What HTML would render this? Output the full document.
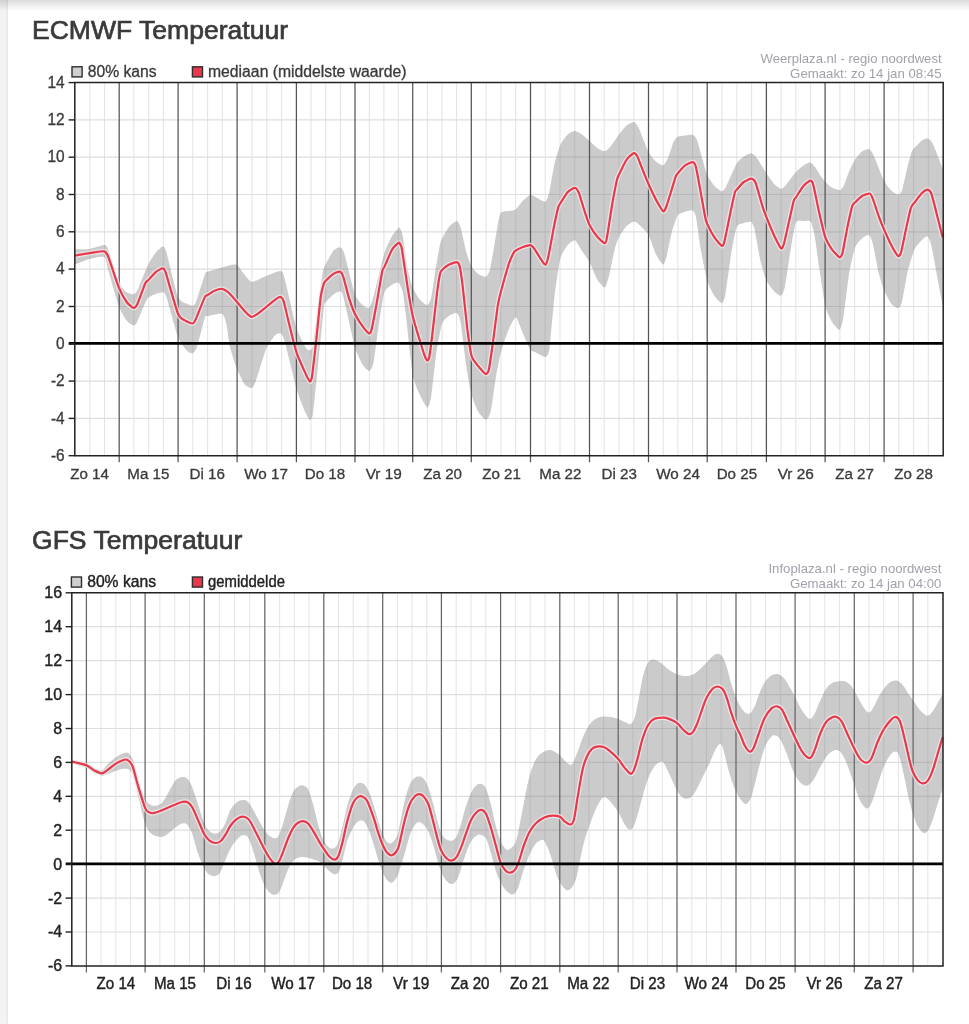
<!DOCTYPE html>
<html lang="nl"><head><meta charset="utf-8"><title>Temperatuur pluim</title>
<style>
html,body{margin:0;padding:0}
body{width:969px;height:1024px;overflow:hidden;background:#f3f3f3;position:relative;font-family:"Liberation Sans",Arial,sans-serif}
.card{position:absolute;left:8px;top:0;width:961px;height:1024px;background:#fff;box-shadow:0 0 3px rgba(0,0,0,.12)}
.shade{position:absolute;left:0;top:0;width:969px;height:11px;background:linear-gradient(rgba(0,0,0,.14),rgba(0,0,0,0))}
h2{position:absolute;margin:0;left:32px;font-size:26.2px;line-height:30px;font-weight:normal;color:#3a3a3a;white-space:nowrap;transform-origin:0 50%;-webkit-text-stroke:.7px #3a3a3a}
#t1{top:15.1px;transform:scaleX(1.013)}
#t2{top:524.6px;transform:scaleX(1.013)}
svg{position:absolute;left:0;top:0;filter:blur(.45px)}
</style></head><body>
<div class="card"></div>
<h2 id="t1">ECMWF Temperatuur</h2>
<h2 id="t2">GFS Temperatuur</h2>
<svg width="969" height="1024" viewBox="0 0 969 1024">
<g stroke="#e4e4e4" stroke-width="1.1">
<line x1="89.8" y1="82.6" x2="89.8" y2="455.7"/>
<line x1="104.5" y1="82.6" x2="104.5" y2="455.7"/>
<line x1="133.9" y1="82.6" x2="133.9" y2="455.7"/>
<line x1="148.7" y1="82.6" x2="148.7" y2="455.7"/>
<line x1="163.4" y1="82.6" x2="163.4" y2="455.7"/>
<line x1="192.8" y1="82.6" x2="192.8" y2="455.7"/>
<line x1="207.6" y1="82.6" x2="207.6" y2="455.7"/>
<line x1="222.3" y1="82.6" x2="222.3" y2="455.7"/>
<line x1="251.9" y1="82.6" x2="251.9" y2="455.7"/>
<line x1="266.8" y1="82.6" x2="266.8" y2="455.7"/>
<line x1="281.6" y1="82.6" x2="281.6" y2="455.7"/>
<line x1="311.0" y1="82.6" x2="311.0" y2="455.7"/>
<line x1="325.7" y1="82.6" x2="325.7" y2="455.7"/>
<line x1="340.4" y1="82.6" x2="340.4" y2="455.7"/>
<line x1="369.4" y1="82.6" x2="369.4" y2="455.7"/>
<line x1="383.9" y1="82.6" x2="383.9" y2="455.7"/>
<line x1="398.3" y1="82.6" x2="398.3" y2="455.7"/>
<line x1="427.4" y1="82.6" x2="427.4" y2="455.7"/>
<line x1="442.0" y1="82.6" x2="442.0" y2="455.7"/>
<line x1="456.6" y1="82.6" x2="456.6" y2="455.7"/>
<line x1="486.1" y1="82.6" x2="486.1" y2="455.7"/>
<line x1="500.9" y1="82.6" x2="500.9" y2="455.7"/>
<line x1="515.7" y1="82.6" x2="515.7" y2="455.7"/>
<line x1="545.2" y1="82.6" x2="545.2" y2="455.7"/>
<line x1="560.0" y1="82.6" x2="560.0" y2="455.7"/>
<line x1="574.8" y1="82.6" x2="574.8" y2="455.7"/>
<line x1="604.2" y1="82.6" x2="604.2" y2="455.7"/>
<line x1="619.0" y1="82.6" x2="619.0" y2="455.7"/>
<line x1="633.8" y1="82.6" x2="633.8" y2="455.7"/>
<line x1="663.2" y1="82.6" x2="663.2" y2="455.7"/>
<line x1="677.9" y1="82.6" x2="677.9" y2="455.7"/>
<line x1="692.6" y1="82.6" x2="692.6" y2="455.7"/>
<line x1="722.0" y1="82.6" x2="722.0" y2="455.7"/>
<line x1="736.8" y1="82.6" x2="736.8" y2="455.7"/>
<line x1="751.6" y1="82.6" x2="751.6" y2="455.7"/>
<line x1="781.1" y1="82.6" x2="781.1" y2="455.7"/>
<line x1="795.8" y1="82.6" x2="795.8" y2="455.7"/>
<line x1="810.5" y1="82.6" x2="810.5" y2="455.7"/>
<line x1="839.9" y1="82.6" x2="839.9" y2="455.7"/>
<line x1="854.6" y1="82.6" x2="854.6" y2="455.7"/>
<line x1="869.4" y1="82.6" x2="869.4" y2="455.7"/>
<line x1="898.8" y1="82.6" x2="898.8" y2="455.7"/>
<line x1="913.6" y1="82.6" x2="913.6" y2="455.7"/>
<line x1="928.3" y1="82.6" x2="928.3" y2="455.7"/>
</g>
<g stroke="#dedede" stroke-width="1.2">
<line x1="74.8" y1="119.9" x2="943.2" y2="119.9"/>
<line x1="74.8" y1="157.2" x2="943.2" y2="157.2"/>
<line x1="74.8" y1="194.5" x2="943.2" y2="194.5"/>
<line x1="74.8" y1="231.8" x2="943.2" y2="231.8"/>
<line x1="74.8" y1="269.1" x2="943.2" y2="269.1"/>
<line x1="74.8" y1="306.5" x2="943.2" y2="306.5"/>
<line x1="74.8" y1="381.1" x2="943.2" y2="381.1"/>
<line x1="74.8" y1="418.4" x2="943.2" y2="418.4"/>
</g>
<path d="M74.9,249.3C76.4,249.3 86.6,249.3 89.5,248.9C92.4,248.5 102.4,245.0 104.2,245.0C106.0,245.0 106.5,245.6 108.0,249.3C109.5,253.1 116.9,278.2 118.8,282.5C120.7,286.8 125.1,291.1 126.6,292.3C128.1,293.5 132.4,294.4 133.5,294.2C134.6,294.0 136.0,293.2 137.4,290.3C138.8,287.4 146.1,268.7 148.0,264.9C149.9,261.1 154.5,254.0 156.0,252.2C157.5,250.3 161.7,246.3 162.8,246.4C163.9,246.5 165.2,248.1 166.7,253.2C168.2,258.3 175.9,292.0 178.0,297.1C180.1,302.2 185.7,303.2 187.2,304.0C188.7,304.8 191.8,305.7 192.7,305.5C193.6,305.3 194.8,305.1 196.0,302.0C197.2,298.9 203.7,277.7 204.8,274.7C205.9,271.7 205.6,272.5 207.3,271.8C209.0,271.1 219.7,268.2 222.0,267.5C224.3,266.8 228.5,265.5 230.0,265.2C231.5,264.9 236.0,264.2 237.2,264.8C238.4,265.4 240.3,269.3 241.7,271.0C243.1,272.7 249.1,281.3 251.5,281.8C253.9,282.3 263.2,277.0 266.1,275.9C269.0,274.8 278.9,270.7 280.8,271.0C282.7,271.3 283.1,273.1 284.7,278.8C286.3,284.5 294.2,320.8 296.4,327.7C298.5,334.6 304.8,346.0 306.2,348.2C307.6,350.4 309.4,350.4 310.1,350.1C310.8,349.8 312.2,349.4 313.0,345.2C313.8,341.0 316.9,315.4 317.9,308.1C318.9,300.8 322.0,276.4 322.8,272.0C323.6,267.6 324.6,266.3 325.7,264.2C326.8,262.1 332.1,252.2 333.5,250.5C334.9,248.8 338.9,246.9 340.0,247.2C341.1,247.5 342.8,248.7 344.3,253.4C345.8,258.1 353.1,289.3 355.0,294.5C356.9,299.7 361.4,303.9 362.8,305.2C364.2,306.5 368.0,308.6 369.1,307.7C370.2,306.8 372.1,301.8 373.6,296.4C375.1,291.0 382.4,259.4 384.3,253.4C386.2,247.4 390.7,238.4 392.1,235.9C393.5,233.4 397.8,228.8 398.6,228.0C399.4,227.2 399.6,227.0 400.0,227.9C400.4,228.8 402.1,232.5 402.9,236.7C403.7,240.9 406.8,264.8 407.8,269.9C408.8,275.0 411.5,284.6 412.7,287.5C413.9,290.4 418.0,297.4 419.5,299.2C421.0,300.9 426.1,305.2 427.3,305.0C428.5,304.8 430.4,301.2 431.3,297.3C432.2,293.4 435.2,271.3 436.1,266.0C437.0,260.7 439.4,247.2 440.0,244.5C440.6,241.8 441.1,240.4 442.0,238.7C442.9,236.9 447.3,228.8 448.8,227.0C450.3,225.2 455.4,221.1 456.6,221.1C457.8,221.1 459.5,223.9 460.5,227.0C461.5,230.1 465.3,248.4 466.4,252.3C467.5,256.2 470.1,263.9 471.3,266.0C472.5,268.1 476.6,272.7 478.1,273.8C479.6,274.9 484.7,277.2 485.9,276.8C487.1,276.4 489.0,272.7 489.8,269.9C490.6,267.1 493.0,252.9 493.8,248.4C494.6,243.9 497.0,228.6 497.7,225.0C498.4,221.4 500.0,213.7 501.2,212.3C502.4,210.9 507.9,211.2 509.4,210.9C510.9,210.6 514.4,210.4 515.8,209.4C517.2,208.4 521.5,202.1 523.0,200.6C524.5,199.1 529.1,195.0 530.5,194.7C531.9,194.4 535.2,197.0 536.7,197.7C538.2,198.4 544.2,202.2 545.5,201.6C546.8,201.0 548.5,195.5 549.4,191.8C550.3,188.1 553.2,169.2 554.3,164.5C555.4,159.8 558.8,147.9 560.2,144.9C561.6,141.9 566.5,135.6 568.0,134.2C569.5,132.8 573.5,130.9 574.9,130.9C576.3,130.9 580.2,133.2 581.7,134.2C583.2,135.2 587.9,139.6 589.5,141.0C591.1,142.4 595.8,146.9 597.3,147.9C598.8,148.9 603.4,151.4 604.8,151.2C606.2,151.0 609.6,147.6 611.0,145.9C612.4,144.2 617.6,136.2 619.2,134.2C620.8,132.1 625.1,126.6 626.6,125.4C628.1,124.2 632.7,121.7 633.9,121.9C635.1,122.1 636.9,124.3 638.4,127.3C639.9,130.3 646.8,148.4 648.5,151.8C650.2,155.2 654.4,160.1 655.9,161.5C657.4,162.9 662.0,165.7 663.2,165.4C664.4,165.1 666.7,160.9 667.7,158.6C668.7,156.3 672.5,144.2 673.5,142.0C674.5,139.8 676.6,137.3 677.8,136.7C679.0,136.0 683.7,135.7 685.2,135.5C686.7,135.3 691.5,134.4 692.7,134.8C693.9,135.2 696.0,137.4 697.0,140.0C698.0,142.6 701.8,157.0 702.8,160.5C703.8,164.0 706.0,172.7 707.2,175.2C708.4,177.7 713.1,184.3 714.6,185.9C716.1,187.5 720.7,191.2 721.9,191.2C723.1,191.2 724.9,188.7 726.4,185.9C727.9,183.1 735.0,166.3 736.7,163.4C738.5,160.5 742.4,157.6 743.9,156.6C745.4,155.6 749.9,153.2 751.2,153.3C752.5,153.4 755.1,155.6 756.6,157.6C758.1,159.6 764.6,170.6 766.4,173.2C768.2,175.8 772.7,182.3 774.2,183.9C775.7,185.5 779.9,188.7 781.1,188.8C782.3,188.9 784.4,186.6 785.9,184.9C787.4,183.2 793.9,174.1 795.7,172.2C797.5,170.2 802.0,166.4 803.5,165.4C805.0,164.4 809.2,162.3 810.4,162.5C811.6,162.7 814.2,166.1 815.2,167.3C816.2,168.5 819.0,173.5 820.0,174.9C821.0,176.3 824.1,180.5 825.3,181.8C826.5,183.1 830.3,186.8 831.7,187.6C833.1,188.4 838.3,190.3 839.5,190.2C840.7,190.1 842.4,188.5 843.4,186.6C844.4,184.7 848.1,173.7 849.3,171.0C850.5,168.3 853.9,161.2 855.2,159.3C856.5,157.4 860.6,152.5 862.0,151.5C863.4,150.5 867.6,148.7 868.8,149.1C870.0,149.5 872.2,152.2 873.7,155.4C875.2,158.6 882.3,177.3 884.1,180.8C885.9,184.3 889.9,189.1 891.3,190.5C892.7,191.9 897.0,194.5 898.1,194.5C899.2,194.5 901.0,193.4 902.0,190.5C903.0,187.6 906.9,169.1 907.9,165.2C908.9,161.3 911.1,153.3 911.8,151.5C912.5,149.7 913.7,148.7 914.7,147.6C915.7,146.5 920.3,141.6 921.6,140.7C922.9,139.8 926.3,138.0 927.4,138.2C928.5,138.4 931.1,140.6 932.3,142.7C933.5,144.8 938.1,156.7 939.1,159.3C940.1,161.9 942.3,168.0 942.7,169.0L942.7,305.8C942.2,302.9 938.3,282.6 937.2,276.5C936.1,270.4 932.3,249.2 931.3,245.2C930.3,241.2 928.4,236.9 927.4,236.4C926.4,235.9 922.9,239.1 921.6,240.4C920.3,241.7 916.1,246.1 914.7,249.1C913.3,252.1 909.2,265.3 907.9,270.6C906.6,275.9 903.0,298.1 902.0,301.9C901.0,305.6 899.2,307.9 898.1,308.1C897.0,308.3 892.7,305.6 891.3,303.8C889.9,302.0 885.4,293.3 884.1,290.2C882.8,287.1 879.7,277.3 878.6,272.6C877.5,267.9 873.7,247.1 872.7,243.3C871.7,239.6 869.9,235.6 868.8,235.1C867.7,234.6 863.4,237.2 862.0,238.4C860.6,239.6 856.5,243.8 855.2,247.2C853.9,250.6 850.5,265.6 849.3,272.6C848.1,279.6 844.4,311.8 843.4,317.5C842.4,323.2 840.7,329.4 839.5,329.8C838.3,330.2 833.1,323.8 831.7,321.4C830.3,319.0 826.6,311.2 825.3,305.8C824.0,300.4 820.2,274.2 819.1,267.0C818.0,259.8 815.2,238.3 814.3,233.8C813.4,229.3 811.5,222.9 810.4,221.6C809.3,220.3 805.0,221.0 803.5,221.1C802.0,221.2 797.1,219.6 795.7,223.0C794.3,226.4 790.9,248.8 789.8,255.2C788.7,261.6 785.9,282.4 785.0,286.5C784.1,290.6 782.2,295.2 781.1,295.7C780.0,296.2 775.7,292.9 774.2,291.4C772.7,289.9 767.8,283.6 766.4,280.6C765.0,277.6 761.7,266.2 760.5,261.1C759.3,256.0 755.6,233.7 754.7,229.8C753.8,225.9 752.3,222.7 751.2,222.0C750.1,221.3 745.4,222.5 743.9,223.0C742.4,223.5 738.0,223.9 736.7,226.9C735.4,229.9 732.4,246.6 731.3,253.3C730.2,260.0 726.3,289.3 725.4,294.3C724.5,299.3 723.0,302.9 721.9,303.1C720.8,303.3 716.1,298.6 714.6,296.3C713.1,294.1 708.6,285.2 707.2,280.6C705.8,276.0 702.0,256.3 700.9,250.0C699.8,243.7 696.8,221.2 696.0,217.2C695.2,213.2 693.8,211.0 692.7,210.4C691.6,209.8 686.7,211.2 685.2,211.7C683.7,212.2 679.2,213.1 677.8,215.2C676.4,217.3 672.7,228.7 671.6,232.8C670.5,236.9 667.5,253.1 666.7,256.3C665.9,259.5 664.3,264.7 663.2,264.5C662.1,264.3 657.4,257.3 655.9,254.3C654.4,251.3 650.2,237.8 648.5,234.8C646.8,231.8 639.9,225.3 638.4,224.0C636.9,222.7 635.1,221.3 633.9,221.5C632.7,221.7 628.1,224.5 626.6,226.0C625.1,227.5 620.4,234.5 619.2,236.7C618.0,238.9 615.9,244.5 614.9,248.4C613.9,252.3 610.1,271.9 609.1,275.8C608.1,279.7 606.0,287.1 604.8,287.5C603.6,287.9 598.8,282.2 597.3,279.7C595.8,277.2 591.1,265.0 589.5,262.1C587.9,259.2 583.2,252.6 581.7,250.4C580.2,248.2 576.3,240.8 574.9,240.2C573.5,239.6 569.5,242.9 568.0,244.8C566.5,246.7 561.6,253.6 560.2,259.0C558.8,264.4 555.4,289.4 554.3,298.4C553.2,307.4 550.3,343.2 549.4,349.1C548.5,355.0 546.8,356.6 545.5,357.0C544.2,357.4 538.2,353.7 536.7,353.0C535.2,352.3 531.5,351.1 530.5,350.1C529.5,349.1 528.1,345.9 527.0,343.3C525.9,340.7 520.2,326.4 519.1,323.8C518.0,321.2 516.8,316.5 515.8,316.9C514.8,317.3 510.9,324.3 509.4,327.7C507.9,331.1 502.6,346.0 501.2,351.1C499.8,356.2 496.7,372.3 495.7,378.4C494.7,384.4 491.8,407.5 490.8,411.6C489.8,415.7 487.2,419.8 485.9,419.8C484.6,419.8 479.6,414.2 478.1,411.6C476.6,409.0 472.5,398.6 471.3,394.1C470.1,389.6 467.5,373.9 466.4,366.7C465.3,359.5 461.5,327.2 460.5,321.8C459.5,316.4 457.8,313.6 456.6,313.0C455.4,312.4 450.3,314.8 448.8,315.9C447.3,317.0 443.3,319.9 442.0,323.8C440.7,327.7 437.2,347.8 436.1,355.0C435.0,362.2 432.2,390.7 431.3,396.0C430.4,401.3 428.5,407.9 427.3,407.7C426.1,407.5 421.0,397.4 419.5,394.1C418.0,390.8 414.1,382.3 412.7,374.5C411.3,366.7 407.0,324.2 406.0,316.0C405.0,307.8 403.6,295.8 402.9,292.5C402.2,289.2 399.7,283.5 398.6,282.7C397.5,281.9 393.5,283.7 392.1,284.7C390.7,285.7 385.7,288.2 384.3,292.5C382.9,296.8 379.5,320.7 378.4,327.7C377.3,334.7 374.5,358.5 373.6,362.8C372.7,367.1 370.2,370.8 369.1,371.0C368.0,371.2 364.2,367.2 362.8,364.8C361.4,362.4 356.9,354.0 355.0,347.2C353.1,340.4 344.8,302.0 343.3,296.4C341.8,290.8 341.0,291.7 340.0,291.5C339.0,291.3 334.9,293.4 333.5,294.5C332.1,295.6 326.7,300.9 325.7,302.3C324.7,303.7 324.6,301.7 323.8,308.1C323.0,314.5 319.0,356.1 317.9,366.7C316.8,377.2 313.8,408.3 313.0,413.6C312.2,418.9 310.6,420.2 309.7,419.8C308.8,419.4 305.5,412.9 304.2,409.7C302.9,406.5 298.3,395.0 296.4,388.2C294.4,381.4 286.3,346.8 284.7,341.3C283.1,335.8 281.8,334.1 280.8,333.5C279.8,332.9 276.4,333.9 274.9,335.5C273.4,337.1 268.1,344.4 266.1,349.1C264.2,353.8 256.9,378.4 255.4,382.3C253.9,386.2 252.6,388.0 251.5,388.2C250.4,388.4 246.0,386.2 244.6,384.3C243.2,382.4 238.7,373.3 237.2,369.6C235.7,365.9 231.1,351.8 230.0,347.2C228.9,342.6 227.1,326.8 226.3,323.5C225.5,320.2 223.9,314.5 222.0,313.8C220.1,313.1 209.0,315.7 207.3,316.1C205.6,316.5 205.8,314.6 204.8,317.7C203.8,320.8 198.2,343.4 197.0,347.0C195.8,350.6 193.7,352.8 192.7,353.2C191.7,353.6 188.7,352.5 187.2,350.9C185.7,349.3 180.1,342.5 178.0,337.2C175.9,331.9 168.2,302.6 166.7,298.1C165.2,293.6 164.7,292.3 162.8,292.3C160.9,292.3 150.5,295.2 148.0,298.1C145.5,301.0 138.8,318.9 137.4,321.6C136.0,324.3 134.6,325.6 133.5,325.5C132.4,325.4 128.1,322.6 126.6,320.6C125.1,318.6 120.6,310.7 118.8,305.9C117.0,301.1 110.5,277.6 109.0,272.7C107.5,267.8 106.2,258.5 104.2,257.1C102.2,255.7 92.4,258.3 89.5,259.0C86.6,259.7 76.4,263.9 74.9,264.5Z" fill="rgba(120,120,120,0.385)"/>
<g stroke="#555" stroke-width="1.25">
<line x1="119.2" y1="82.6" x2="119.2" y2="462.3"/>
<line x1="178.1" y1="82.6" x2="178.1" y2="462.3"/>
<line x1="237.1" y1="82.6" x2="237.1" y2="462.3"/>
<line x1="296.4" y1="82.6" x2="296.4" y2="462.3"/>
<line x1="355.0" y1="82.6" x2="355.0" y2="462.3"/>
<line x1="412.7" y1="82.6" x2="412.7" y2="462.3"/>
<line x1="471.3" y1="82.6" x2="471.3" y2="462.3"/>
<line x1="530.5" y1="82.6" x2="530.5" y2="462.3"/>
<line x1="589.5" y1="82.6" x2="589.5" y2="462.3"/>
<line x1="648.5" y1="82.6" x2="648.5" y2="462.3"/>
<line x1="707.2" y1="82.6" x2="707.2" y2="462.3"/>
<line x1="766.4" y1="82.6" x2="766.4" y2="462.3"/>
<line x1="825.1" y1="82.6" x2="825.1" y2="462.3"/>
<line x1="884.1" y1="82.6" x2="884.1" y2="462.3"/>
</g>
<path d="M74.9,255.5C76.4,255.3 86.6,253.6 89.5,253.2C92.4,252.8 102.4,251.0 104.2,251.3C106.0,251.6 106.5,252.4 108.0,256.0C109.5,259.6 116.9,282.8 118.8,287.4C120.7,292.0 125.1,299.9 126.6,302.0C128.1,304.1 132.4,307.7 133.5,307.9C134.6,308.1 136.2,306.4 137.4,304.0C138.6,301.6 144.1,285.9 145.2,283.5C146.3,281.1 146.9,281.7 148.0,280.5C149.1,279.3 154.5,273.0 156.0,271.8C157.5,270.6 161.8,268.3 162.8,268.4C163.8,268.5 164.2,268.2 165.7,272.7C167.2,277.2 176.1,309.0 178.0,313.8C179.9,318.6 183.7,319.6 185.2,320.6C186.7,321.6 191.6,323.7 192.7,323.5C193.8,323.3 194.8,321.2 196.0,318.6C197.2,316.0 203.7,299.4 204.8,297.1C205.9,294.8 206.3,295.8 207.3,295.2C208.3,294.6 213.0,291.3 214.5,290.7C216.0,290.1 220.6,288.6 222.0,288.8C223.4,289.0 226.7,290.9 228.2,292.3C229.7,293.7 235.6,300.4 237.2,302.3C238.8,304.2 243.2,309.5 244.6,311.0C246.0,312.5 250.2,316.6 251.5,316.9C252.8,317.2 255.8,315.0 257.3,314.0C258.8,313.0 264.1,308.7 266.1,307.1C268.1,305.5 275.4,299.4 276.9,298.4C278.4,297.4 280.1,296.7 280.8,297.0C281.5,297.3 282.9,298.8 283.7,301.3C284.5,303.8 287.3,316.7 288.6,321.8C289.9,326.9 294.8,347.2 296.4,352.1C298.0,357.0 302.9,367.7 304.2,370.6C305.5,373.5 308.9,380.8 309.7,381.4C310.5,382.0 311.4,380.3 312.0,376.5C312.6,372.7 315.0,351.3 315.9,343.3C316.8,335.3 320.0,302.4 320.8,296.4C321.6,290.4 323.3,285.3 323.8,283.7C324.3,282.1 324.7,281.8 325.7,280.8C326.7,279.8 332.1,274.8 333.5,273.9C334.9,273.0 339.0,271.3 340.0,271.6C341.0,271.9 342.4,274.2 343.3,276.9C344.2,279.6 347.9,294.7 349.1,298.4C350.3,302.1 353.6,311.2 355.0,314.0C356.4,316.8 361.4,324.8 362.8,326.7C364.2,328.6 368.2,333.2 369.1,333.5C370.0,333.8 370.9,332.5 371.6,329.6C372.3,326.7 375.4,310.1 376.5,304.2C377.6,298.3 381.5,274.7 382.3,271.0C383.1,267.3 383.3,269.2 384.3,267.1C385.3,265.0 390.7,251.9 392.1,249.5C393.5,247.1 397.8,243.1 398.6,242.7C399.5,242.2 400.3,244.3 400.6,245.0C400.9,245.7 401.3,245.1 402.0,249.5C402.7,253.9 406.7,282.0 407.8,288.6C408.9,295.2 411.5,310.8 412.7,315.9C413.9,321.0 418.3,335.5 419.5,339.4C420.7,343.3 423.6,352.9 424.4,355.0C425.2,357.1 426.8,360.3 427.3,360.5C427.8,360.7 428.8,359.5 429.3,357.0C429.8,354.5 431.4,341.9 432.2,335.5C433.0,329.1 436.3,298.7 437.1,292.5C437.9,286.3 439.5,276.1 440.0,273.9C440.5,271.6 441.1,270.9 442.0,270.0C442.9,269.1 447.3,265.6 448.8,264.8C450.3,264.0 455.5,262.1 456.6,262.2C457.7,262.3 459.0,263.9 459.6,266.1C460.2,268.4 461.7,278.3 462.5,284.7C463.3,291.1 466.5,322.6 467.4,329.6C468.3,336.6 470.6,351.9 471.3,355.0C472.0,358.1 473.1,359.3 474.2,360.9C475.3,362.5 480.8,369.3 482.0,370.6C483.2,371.9 485.2,374.2 485.9,374.1C486.6,374.0 488.2,372.7 488.9,369.6C489.6,366.5 491.9,349.6 492.8,343.3C493.7,337.0 496.9,311.5 497.7,306.2C498.5,300.9 500.0,294.9 501.2,290.5C502.4,286.1 508.2,265.9 509.4,262.2C510.6,258.5 512.7,254.6 513.3,253.4C513.9,252.2 514.8,251.1 515.8,250.5C516.8,249.9 521.5,247.5 523.0,247.0C524.5,246.5 529.3,244.9 530.5,245.2C531.7,245.4 533.7,248.0 534.8,249.5C535.9,251.0 540.5,258.8 541.6,260.3C542.7,261.8 544.8,265.2 545.5,264.8C546.2,264.4 547.5,260.3 548.4,256.3C549.3,252.3 553.3,229.9 554.3,225.0C555.3,220.1 557.6,209.6 558.2,207.4C558.8,205.2 559.2,205.1 560.2,203.5C561.2,201.9 566.5,193.4 568.0,191.8C569.5,190.2 573.8,187.8 574.9,187.9C576.0,188.0 577.8,190.5 578.8,192.8C579.8,195.1 583.5,208.1 584.6,211.3C585.7,214.5 588.2,222.5 589.5,225.0C590.8,227.5 595.8,234.9 597.3,236.7C598.8,238.5 603.8,243.2 604.8,243.2C605.8,243.2 606.4,240.5 607.1,236.7C607.8,232.9 611.0,211.2 612.0,205.5C613.0,199.8 616.2,183.2 616.9,180.1C617.6,177.0 618.2,176.2 619.2,174.2C620.2,172.1 625.1,161.7 626.6,159.6C628.1,157.5 632.8,153.4 633.9,153.1C635.0,152.8 636.7,155.3 637.4,156.6C638.1,157.9 640.2,163.7 641.3,166.4C642.4,169.1 647.0,180.7 648.5,184.0C650.0,187.3 654.4,196.9 655.9,199.6C657.4,202.3 662.1,210.7 663.2,211.3C664.3,211.9 665.9,207.7 666.7,205.5C667.5,203.3 670.7,192.6 671.6,189.8C672.5,187.0 674.9,178.8 675.5,177.1C676.1,175.4 676.8,174.4 677.8,173.2C678.8,172.0 683.7,166.5 685.2,165.4C686.7,164.3 691.6,161.9 692.7,162.1C693.8,162.3 695.3,164.8 696.0,167.4C696.7,170.0 699.0,183.1 699.9,187.9C700.8,192.7 704.1,211.6 704.8,215.2C705.5,218.8 706.2,221.8 707.2,224.0C708.2,226.2 713.1,235.5 714.6,237.7C716.1,239.9 720.9,245.5 721.9,245.9C722.9,246.3 723.7,244.4 724.4,241.6C725.1,238.8 728.3,223.0 729.3,218.1C730.3,213.2 734.1,195.5 734.8,192.7C735.5,189.9 735.8,190.9 736.7,189.8C737.6,188.7 742.4,183.1 743.9,182.0C745.4,180.9 750.0,178.6 751.2,178.7C752.4,178.8 754.6,180.2 755.7,183.0C756.8,185.8 761.4,203.0 762.5,206.4C763.6,209.8 765.2,214.2 766.4,217.1C767.6,220.0 772.7,232.6 774.2,235.7C775.7,238.8 780.1,247.6 781.1,248.4C782.1,249.2 783.2,246.1 784.0,243.5C784.8,240.9 787.9,226.3 788.9,222.0C789.9,217.7 793.1,202.9 793.8,200.5C794.5,198.1 794.7,199.1 795.7,197.6C796.7,196.1 802.0,187.6 803.5,185.9C805.0,184.2 809.4,180.7 810.4,180.6C811.4,180.5 812.4,181.7 813.3,184.9C814.2,188.1 817.9,207.1 819.1,212.3C820.3,217.6 824.0,233.7 825.3,237.4C826.6,241.1 830.3,247.1 831.7,249.1C833.1,251.1 838.4,256.9 839.5,257.3C840.6,257.7 841.7,256.0 842.5,253.0C843.3,250.0 846.3,232.4 847.3,227.7C848.3,223.0 851.4,208.7 852.2,206.2C853.0,203.7 854.2,203.3 855.2,202.3C856.2,201.3 860.5,196.9 862.0,196.0C863.5,195.1 868.7,193.3 869.8,193.5C870.9,193.7 871.8,196.2 872.7,198.4C873.6,200.6 877.5,212.8 878.6,215.9C879.7,219.0 882.8,226.7 884.1,229.6C885.4,232.5 889.9,242.6 891.3,245.2C892.7,247.8 897.1,255.3 898.1,256.0C899.1,256.7 900.3,254.7 901.1,252.1C901.9,249.5 904.9,234.0 905.9,229.6C906.9,225.2 909.9,210.8 910.8,208.1C911.7,205.4 913.6,203.8 914.7,202.3C915.8,200.8 920.3,194.8 921.6,193.5C922.9,192.2 926.4,189.6 927.4,189.6C928.4,189.6 930.3,190.9 931.3,193.5C932.3,196.1 936.1,211.5 937.2,215.9C938.3,220.3 942.2,235.2 942.7,237.4" fill="none" stroke="#f4eeee" stroke-opacity="0.75" stroke-width="4.8" stroke-linejoin="round" stroke-linecap="butt"/>
<path d="M74.9,255.5C76.4,255.3 86.6,253.6 89.5,253.2C92.4,252.8 102.4,251.0 104.2,251.3C106.0,251.6 106.5,252.4 108.0,256.0C109.5,259.6 116.9,282.8 118.8,287.4C120.7,292.0 125.1,299.9 126.6,302.0C128.1,304.1 132.4,307.7 133.5,307.9C134.6,308.1 136.2,306.4 137.4,304.0C138.6,301.6 144.1,285.9 145.2,283.5C146.3,281.1 146.9,281.7 148.0,280.5C149.1,279.3 154.5,273.0 156.0,271.8C157.5,270.6 161.8,268.3 162.8,268.4C163.8,268.5 164.2,268.2 165.7,272.7C167.2,277.2 176.1,309.0 178.0,313.8C179.9,318.6 183.7,319.6 185.2,320.6C186.7,321.6 191.6,323.7 192.7,323.5C193.8,323.3 194.8,321.2 196.0,318.6C197.2,316.0 203.7,299.4 204.8,297.1C205.9,294.8 206.3,295.8 207.3,295.2C208.3,294.6 213.0,291.3 214.5,290.7C216.0,290.1 220.6,288.6 222.0,288.8C223.4,289.0 226.7,290.9 228.2,292.3C229.7,293.7 235.6,300.4 237.2,302.3C238.8,304.2 243.2,309.5 244.6,311.0C246.0,312.5 250.2,316.6 251.5,316.9C252.8,317.2 255.8,315.0 257.3,314.0C258.8,313.0 264.1,308.7 266.1,307.1C268.1,305.5 275.4,299.4 276.9,298.4C278.4,297.4 280.1,296.7 280.8,297.0C281.5,297.3 282.9,298.8 283.7,301.3C284.5,303.8 287.3,316.7 288.6,321.8C289.9,326.9 294.8,347.2 296.4,352.1C298.0,357.0 302.9,367.7 304.2,370.6C305.5,373.5 308.9,380.8 309.7,381.4C310.5,382.0 311.4,380.3 312.0,376.5C312.6,372.7 315.0,351.3 315.9,343.3C316.8,335.3 320.0,302.4 320.8,296.4C321.6,290.4 323.3,285.3 323.8,283.7C324.3,282.1 324.7,281.8 325.7,280.8C326.7,279.8 332.1,274.8 333.5,273.9C334.9,273.0 339.0,271.3 340.0,271.6C341.0,271.9 342.4,274.2 343.3,276.9C344.2,279.6 347.9,294.7 349.1,298.4C350.3,302.1 353.6,311.2 355.0,314.0C356.4,316.8 361.4,324.8 362.8,326.7C364.2,328.6 368.2,333.2 369.1,333.5C370.0,333.8 370.9,332.5 371.6,329.6C372.3,326.7 375.4,310.1 376.5,304.2C377.6,298.3 381.5,274.7 382.3,271.0C383.1,267.3 383.3,269.2 384.3,267.1C385.3,265.0 390.7,251.9 392.1,249.5C393.5,247.1 397.8,243.1 398.6,242.7C399.5,242.2 400.3,244.3 400.6,245.0C400.9,245.7 401.3,245.1 402.0,249.5C402.7,253.9 406.7,282.0 407.8,288.6C408.9,295.2 411.5,310.8 412.7,315.9C413.9,321.0 418.3,335.5 419.5,339.4C420.7,343.3 423.6,352.9 424.4,355.0C425.2,357.1 426.8,360.3 427.3,360.5C427.8,360.7 428.8,359.5 429.3,357.0C429.8,354.5 431.4,341.9 432.2,335.5C433.0,329.1 436.3,298.7 437.1,292.5C437.9,286.3 439.5,276.1 440.0,273.9C440.5,271.6 441.1,270.9 442.0,270.0C442.9,269.1 447.3,265.6 448.8,264.8C450.3,264.0 455.5,262.1 456.6,262.2C457.7,262.3 459.0,263.9 459.6,266.1C460.2,268.4 461.7,278.3 462.5,284.7C463.3,291.1 466.5,322.6 467.4,329.6C468.3,336.6 470.6,351.9 471.3,355.0C472.0,358.1 473.1,359.3 474.2,360.9C475.3,362.5 480.8,369.3 482.0,370.6C483.2,371.9 485.2,374.2 485.9,374.1C486.6,374.0 488.2,372.7 488.9,369.6C489.6,366.5 491.9,349.6 492.8,343.3C493.7,337.0 496.9,311.5 497.7,306.2C498.5,300.9 500.0,294.9 501.2,290.5C502.4,286.1 508.2,265.9 509.4,262.2C510.6,258.5 512.7,254.6 513.3,253.4C513.9,252.2 514.8,251.1 515.8,250.5C516.8,249.9 521.5,247.5 523.0,247.0C524.5,246.5 529.3,244.9 530.5,245.2C531.7,245.4 533.7,248.0 534.8,249.5C535.9,251.0 540.5,258.8 541.6,260.3C542.7,261.8 544.8,265.2 545.5,264.8C546.2,264.4 547.5,260.3 548.4,256.3C549.3,252.3 553.3,229.9 554.3,225.0C555.3,220.1 557.6,209.6 558.2,207.4C558.8,205.2 559.2,205.1 560.2,203.5C561.2,201.9 566.5,193.4 568.0,191.8C569.5,190.2 573.8,187.8 574.9,187.9C576.0,188.0 577.8,190.5 578.8,192.8C579.8,195.1 583.5,208.1 584.6,211.3C585.7,214.5 588.2,222.5 589.5,225.0C590.8,227.5 595.8,234.9 597.3,236.7C598.8,238.5 603.8,243.2 604.8,243.2C605.8,243.2 606.4,240.5 607.1,236.7C607.8,232.9 611.0,211.2 612.0,205.5C613.0,199.8 616.2,183.2 616.9,180.1C617.6,177.0 618.2,176.2 619.2,174.2C620.2,172.1 625.1,161.7 626.6,159.6C628.1,157.5 632.8,153.4 633.9,153.1C635.0,152.8 636.7,155.3 637.4,156.6C638.1,157.9 640.2,163.7 641.3,166.4C642.4,169.1 647.0,180.7 648.5,184.0C650.0,187.3 654.4,196.9 655.9,199.6C657.4,202.3 662.1,210.7 663.2,211.3C664.3,211.9 665.9,207.7 666.7,205.5C667.5,203.3 670.7,192.6 671.6,189.8C672.5,187.0 674.9,178.8 675.5,177.1C676.1,175.4 676.8,174.4 677.8,173.2C678.8,172.0 683.7,166.5 685.2,165.4C686.7,164.3 691.6,161.9 692.7,162.1C693.8,162.3 695.3,164.8 696.0,167.4C696.7,170.0 699.0,183.1 699.9,187.9C700.8,192.7 704.1,211.6 704.8,215.2C705.5,218.8 706.2,221.8 707.2,224.0C708.2,226.2 713.1,235.5 714.6,237.7C716.1,239.9 720.9,245.5 721.9,245.9C722.9,246.3 723.7,244.4 724.4,241.6C725.1,238.8 728.3,223.0 729.3,218.1C730.3,213.2 734.1,195.5 734.8,192.7C735.5,189.9 735.8,190.9 736.7,189.8C737.6,188.7 742.4,183.1 743.9,182.0C745.4,180.9 750.0,178.6 751.2,178.7C752.4,178.8 754.6,180.2 755.7,183.0C756.8,185.8 761.4,203.0 762.5,206.4C763.6,209.8 765.2,214.2 766.4,217.1C767.6,220.0 772.7,232.6 774.2,235.7C775.7,238.8 780.1,247.6 781.1,248.4C782.1,249.2 783.2,246.1 784.0,243.5C784.8,240.9 787.9,226.3 788.9,222.0C789.9,217.7 793.1,202.9 793.8,200.5C794.5,198.1 794.7,199.1 795.7,197.6C796.7,196.1 802.0,187.6 803.5,185.9C805.0,184.2 809.4,180.7 810.4,180.6C811.4,180.5 812.4,181.7 813.3,184.9C814.2,188.1 817.9,207.1 819.1,212.3C820.3,217.6 824.0,233.7 825.3,237.4C826.6,241.1 830.3,247.1 831.7,249.1C833.1,251.1 838.4,256.9 839.5,257.3C840.6,257.7 841.7,256.0 842.5,253.0C843.3,250.0 846.3,232.4 847.3,227.7C848.3,223.0 851.4,208.7 852.2,206.2C853.0,203.7 854.2,203.3 855.2,202.3C856.2,201.3 860.5,196.9 862.0,196.0C863.5,195.1 868.7,193.3 869.8,193.5C870.9,193.7 871.8,196.2 872.7,198.4C873.6,200.6 877.5,212.8 878.6,215.9C879.7,219.0 882.8,226.7 884.1,229.6C885.4,232.5 889.9,242.6 891.3,245.2C892.7,247.8 897.1,255.3 898.1,256.0C899.1,256.7 900.3,254.7 901.1,252.1C901.9,249.5 904.9,234.0 905.9,229.6C906.9,225.2 909.9,210.8 910.8,208.1C911.7,205.4 913.6,203.8 914.7,202.3C915.8,200.8 920.3,194.8 921.6,193.5C922.9,192.2 926.4,189.6 927.4,189.6C928.4,189.6 930.3,190.9 931.3,193.5C932.3,196.1 936.1,211.5 937.2,215.9C938.3,220.3 942.2,235.2 942.7,237.4" fill="none" stroke="#e8384c" stroke-width="2.2" stroke-linejoin="round" stroke-linecap="butt"/>
<line x1="68.8" y1="343.45" x2="943.2" y2="343.45" stroke="#000" stroke-width="2.8"/>
<g stroke="#222" stroke-width="1.5" fill="none">
<path d="M74.8,455.7 L74.8,82.6 L943.2,82.6 L943.2,455.7 L74.1,455.7"/>
</g>
<g stroke="#222" stroke-width="1.4">
<line x1="68.6" y1="82.6" x2="74.8" y2="82.6"/>
<line x1="68.6" y1="119.9" x2="74.8" y2="119.9"/>
<line x1="68.6" y1="157.2" x2="74.8" y2="157.2"/>
<line x1="68.6" y1="194.5" x2="74.8" y2="194.5"/>
<line x1="68.6" y1="231.8" x2="74.8" y2="231.8"/>
<line x1="68.6" y1="269.1" x2="74.8" y2="269.1"/>
<line x1="68.6" y1="306.5" x2="74.8" y2="306.5"/>
<line x1="68.6" y1="343.8" x2="74.8" y2="343.8"/>
<line x1="68.6" y1="381.1" x2="74.8" y2="381.1"/>
<line x1="68.6" y1="418.4" x2="74.8" y2="418.4"/>
<line x1="68.6" y1="455.7" x2="74.8" y2="455.7"/>
</g>
<g font-family="Liberation Sans, Arial, sans-serif" font-size="15.6" fill="#3a3a3a" stroke="#3a3a3a" stroke-width="0.3">
<text x="64.6" y="87.8" text-anchor="end" textLength="17.2" lengthAdjust="spacingAndGlyphs">14</text>
<text x="64.6" y="125.1" text-anchor="end" textLength="17.2" lengthAdjust="spacingAndGlyphs">12</text>
<text x="64.6" y="162.4" text-anchor="end" textLength="17.2" lengthAdjust="spacingAndGlyphs">10</text>
<text x="64.6" y="199.7" text-anchor="end" textLength="8.6" lengthAdjust="spacingAndGlyphs">8</text>
<text x="64.6" y="237.1" text-anchor="end" textLength="8.6" lengthAdjust="spacingAndGlyphs">6</text>
<text x="64.6" y="274.4" text-anchor="end" textLength="8.6" lengthAdjust="spacingAndGlyphs">4</text>
<text x="64.6" y="311.7" text-anchor="end" textLength="8.6" lengthAdjust="spacingAndGlyphs">2</text>
<text x="64.6" y="349.0" text-anchor="end" textLength="8.6" lengthAdjust="spacingAndGlyphs">0</text>
<text x="64.6" y="386.3" text-anchor="end" textLength="13.7" lengthAdjust="spacingAndGlyphs">-2</text>
<text x="64.6" y="423.6" text-anchor="end" textLength="13.7" lengthAdjust="spacingAndGlyphs">-4</text>
<text x="64.6" y="460.9" text-anchor="end" textLength="13.7" lengthAdjust="spacingAndGlyphs">-6</text>
<text x="89.6" y="478.6" font-size="15.2" text-anchor="middle" textLength="38.7" lengthAdjust="spacingAndGlyphs">Zo 14</text>
<text x="148.4" y="478.6" font-size="15.2" text-anchor="middle" textLength="42.1" lengthAdjust="spacingAndGlyphs">Ma 15</text>
<text x="207.3" y="478.6" font-size="15.2" text-anchor="middle" textLength="35.4" lengthAdjust="spacingAndGlyphs">Di 16</text>
<text x="266.1" y="478.6" font-size="15.2" text-anchor="middle" textLength="43.8" lengthAdjust="spacingAndGlyphs">Wo 17</text>
<text x="325.0" y="478.6" font-size="15.2" text-anchor="middle" textLength="40.4" lengthAdjust="spacingAndGlyphs">Do 18</text>
<text x="383.8" y="478.6" font-size="15.2" text-anchor="middle" textLength="36.2" lengthAdjust="spacingAndGlyphs">Vr 19</text>
<text x="442.7" y="478.6" font-size="15.2" text-anchor="middle" textLength="38.7" lengthAdjust="spacingAndGlyphs">Za 20</text>
<text x="501.5" y="478.6" font-size="15.2" text-anchor="middle" textLength="38.7" lengthAdjust="spacingAndGlyphs">Zo 21</text>
<text x="560.4" y="478.6" font-size="15.2" text-anchor="middle" textLength="42.1" lengthAdjust="spacingAndGlyphs">Ma 22</text>
<text x="619.2" y="478.6" font-size="15.2" text-anchor="middle" textLength="35.4" lengthAdjust="spacingAndGlyphs">Di 23</text>
<text x="678.1" y="478.6" font-size="15.2" text-anchor="middle" textLength="43.8" lengthAdjust="spacingAndGlyphs">Wo 24</text>
<text x="736.9" y="478.6" font-size="15.2" text-anchor="middle" textLength="40.4" lengthAdjust="spacingAndGlyphs">Do 25</text>
<text x="795.8" y="478.6" font-size="15.2" text-anchor="middle" textLength="36.2" lengthAdjust="spacingAndGlyphs">Vr 26</text>
<text x="854.6" y="478.6" font-size="15.2" text-anchor="middle" textLength="38.7" lengthAdjust="spacingAndGlyphs">Za 27</text>
<text x="913.5" y="478.6" font-size="15.2" text-anchor="middle" textLength="38.7" lengthAdjust="spacingAndGlyphs">Zo 28</text>
<rect x="72.0" y="66.8" width="10.1" height="10.1" fill="#cfcfcf" stroke="#2e2e2e" stroke-width="1.4"/>
<text x="87.8" y="77.0" textLength="68.8" lengthAdjust="spacingAndGlyphs">80% kans</text>
<rect x="192.4" y="66.8" width="10.1" height="10.1" fill="#e8384c" stroke="#2e2e2e" stroke-width="1.4"/>
<text x="208.0" y="77.0" textLength="198.6" lengthAdjust="spacingAndGlyphs">mediaan (middelste waarde)</text>
</g>
<g font-family="Liberation Sans, Arial, sans-serif" font-size="13.1" fill="#a1a1ab" text-anchor="end">
<text x="941.6" y="63.0" textLength="181.0" lengthAdjust="spacingAndGlyphs">Weerplaza.nl - regio noordwest</text>
<text x="941.6" y="77.6" textLength="151.5" lengthAdjust="spacingAndGlyphs">Gemaakt: zo 14 jan 08:45</text>
</g>
<g stroke="#e6e6e6" stroke-width="1.1">
<line x1="101.1" y1="592.8" x2="101.1" y2="965.9"/>
<line x1="115.8" y1="592.8" x2="115.8" y2="965.9"/>
<line x1="130.4" y1="592.8" x2="130.4" y2="965.9"/>
<line x1="159.9" y1="592.8" x2="159.9" y2="965.9"/>
<line x1="174.7" y1="592.8" x2="174.7" y2="965.9"/>
<line x1="189.5" y1="592.8" x2="189.5" y2="965.9"/>
<line x1="219.4" y1="592.8" x2="219.4" y2="965.9"/>
<line x1="234.6" y1="592.8" x2="234.6" y2="965.9"/>
<line x1="249.7" y1="592.8" x2="249.7" y2="965.9"/>
<line x1="279.6" y1="592.8" x2="279.6" y2="965.9"/>
<line x1="294.3" y1="592.8" x2="294.3" y2="965.9"/>
<line x1="309.1" y1="592.8" x2="309.1" y2="965.9"/>
<line x1="338.5" y1="592.8" x2="338.5" y2="965.9"/>
<line x1="353.2" y1="592.8" x2="353.2" y2="965.9"/>
<line x1="368.0" y1="592.8" x2="368.0" y2="965.9"/>
<line x1="397.4" y1="592.8" x2="397.4" y2="965.9"/>
<line x1="412.0" y1="592.8" x2="412.0" y2="965.9"/>
<line x1="426.7" y1="592.8" x2="426.7" y2="965.9"/>
<line x1="456.2" y1="592.8" x2="456.2" y2="965.9"/>
<line x1="471.0" y1="592.8" x2="471.0" y2="965.9"/>
<line x1="485.8" y1="592.8" x2="485.8" y2="965.9"/>
<line x1="515.4" y1="592.8" x2="515.4" y2="965.9"/>
<line x1="530.2" y1="592.8" x2="530.2" y2="965.9"/>
<line x1="545.0" y1="592.8" x2="545.0" y2="965.9"/>
<line x1="574.4" y1="592.8" x2="574.4" y2="965.9"/>
<line x1="589.0" y1="592.8" x2="589.0" y2="965.9"/>
<line x1="603.6" y1="592.8" x2="603.6" y2="965.9"/>
<line x1="632.9" y1="592.8" x2="632.9" y2="965.9"/>
<line x1="647.6" y1="592.8" x2="647.6" y2="965.9"/>
<line x1="662.3" y1="592.8" x2="662.3" y2="965.9"/>
<line x1="691.8" y1="592.8" x2="691.8" y2="965.9"/>
<line x1="706.5" y1="592.8" x2="706.5" y2="965.9"/>
<line x1="721.2" y1="592.8" x2="721.2" y2="965.9"/>
<line x1="750.8" y1="592.8" x2="750.8" y2="965.9"/>
<line x1="765.5" y1="592.8" x2="765.5" y2="965.9"/>
<line x1="780.3" y1="592.8" x2="780.3" y2="965.9"/>
<line x1="809.9" y1="592.8" x2="809.9" y2="965.9"/>
<line x1="824.7" y1="592.8" x2="824.7" y2="965.9"/>
<line x1="839.5" y1="592.8" x2="839.5" y2="965.9"/>
<line x1="869.0" y1="592.8" x2="869.0" y2="965.9"/>
<line x1="883.7" y1="592.8" x2="883.7" y2="965.9"/>
<line x1="898.4" y1="592.8" x2="898.4" y2="965.9"/>
<line x1="927.8" y1="592.8" x2="927.8" y2="965.9"/>
</g>
<g stroke="#dedede" stroke-width="1.2">
<line x1="71.8" y1="626.7" x2="943.0" y2="626.7"/>
<line x1="71.8" y1="660.6" x2="943.0" y2="660.6"/>
<line x1="71.8" y1="694.6" x2="943.0" y2="694.6"/>
<line x1="71.8" y1="728.5" x2="943.0" y2="728.5"/>
<line x1="71.8" y1="762.4" x2="943.0" y2="762.4"/>
<line x1="71.8" y1="796.3" x2="943.0" y2="796.3"/>
<line x1="71.8" y1="830.2" x2="943.0" y2="830.2"/>
<line x1="71.8" y1="898.1" x2="943.0" y2="898.1"/>
<line x1="71.8" y1="932.0" x2="943.0" y2="932.0"/>
</g>
<path d="M72.2,760.0C74.6,760.5 82.8,761.7 86.5,763.0C90.2,764.3 91.8,766.7 94.3,767.9C96.8,769.1 99.6,770.9 101.7,770.4C103.8,769.9 104.6,767.1 107.0,764.9C109.4,762.7 113.4,759.0 116.2,757.1C119.0,755.2 121.5,753.9 123.6,753.2C125.6,752.6 126.9,751.9 128.5,753.2C130.1,754.5 131.6,756.1 133.4,761.0C135.2,765.9 137.2,776.1 139.2,782.5C141.1,788.9 143.1,795.4 145.1,799.1C147.1,802.9 148.9,803.9 150.9,805.0C152.9,806.1 154.8,806.0 156.8,805.5C158.8,805.0 160.8,804.2 162.7,802.0C164.6,799.8 166.4,795.9 168.5,792.3C170.6,788.7 173.1,783.0 175.4,780.5C177.7,778.0 180.2,777.3 182.2,777.0C184.1,776.7 185.5,777.0 187.1,778.6C188.7,780.2 190.2,782.2 192.0,786.4C193.8,790.6 195.8,797.8 197.8,804.0C199.9,810.2 202.4,819.0 204.3,823.5C206.2,828.0 207.7,829.6 209.5,831.3C211.3,833.0 213.6,833.7 215.4,833.7C217.2,833.7 218.7,833.0 220.3,831.3C221.9,829.6 223.6,826.9 225.2,823.5C226.8,820.1 228.4,814.0 230.0,810.8C231.6,807.5 233.3,805.7 234.9,804.0C236.5,802.3 238.2,801.1 239.8,800.5C241.4,799.9 243.1,799.7 244.6,800.1C246.1,800.5 247.3,801.0 248.9,803.0C250.5,805.0 252.7,808.7 254.4,811.8C256.1,814.9 257.6,818.5 259.3,821.6C261.0,824.7 263.0,828.0 264.8,830.4C266.6,832.8 268.2,834.9 270.0,836.2C271.8,837.5 273.8,838.4 275.3,838.2C276.8,838.0 277.4,838.0 278.8,835.2C280.2,832.4 282.1,826.8 283.7,821.6C285.3,816.4 287.0,809.0 288.6,804.0C290.2,799.0 291.9,794.2 293.5,791.3C295.1,788.4 296.8,787.4 298.4,786.4C300.0,785.4 301.6,784.9 303.2,785.4C304.8,785.9 306.5,786.2 308.1,789.3C309.7,792.4 311.2,797.6 313.0,804.0C314.8,810.4 317.1,821.2 318.9,827.4C320.7,833.6 322.0,837.7 323.8,841.1C325.6,844.5 327.8,846.8 329.6,847.9C331.4,849.0 333.1,848.7 334.5,847.9C335.9,847.1 336.7,846.4 338.0,843.0C339.3,839.6 340.8,833.6 342.3,827.4C343.8,821.2 345.5,812.1 347.2,805.9C348.9,799.7 351.1,793.9 352.7,790.3C354.3,786.7 355.6,785.3 357.0,784.1C358.4,782.9 359.6,782.8 360.9,782.9C362.2,783.0 363.4,783.1 364.8,784.8C366.2,786.5 368.0,789.4 369.6,793.2C371.2,797.1 373.0,803.2 374.5,807.9C376.0,812.6 377.0,817.2 378.4,821.6C379.8,826.0 381.2,830.9 382.7,834.3C384.2,837.7 385.6,840.7 387.2,842.1C388.8,843.5 390.4,843.9 392.1,842.7C393.8,841.6 396.1,838.4 397.4,835.2C398.7,832.0 398.8,829.4 400.0,823.5C401.2,817.6 403.3,806.6 404.9,800.1C406.5,793.6 408.2,788.2 409.8,784.5C411.4,780.8 413.1,779.3 414.6,778.0C416.1,776.7 417.4,776.5 418.9,776.6C420.4,776.7 421.8,776.8 423.4,778.6C425.0,780.4 426.7,783.2 428.3,787.4C429.9,791.6 431.6,798.0 433.2,804.0C434.8,810.0 436.7,818.6 438.1,823.5C439.5,828.4 440.1,830.7 441.4,833.3C442.7,835.9 444.3,837.9 445.9,839.1C447.5,840.3 449.5,841.0 451.2,840.7C452.9,840.4 454.6,839.7 456.1,837.2C457.7,834.7 458.9,830.4 460.5,825.5C462.1,820.6 463.6,813.4 465.4,807.9C467.2,802.4 469.4,796.1 471.3,792.3C473.2,788.4 475.4,786.2 477.1,784.8C478.8,783.4 480.1,783.5 481.6,784.1C483.1,784.7 484.4,785.1 485.9,788.4C487.4,791.7 489.2,797.8 490.8,804.0C492.4,810.2 494.1,819.3 495.7,825.5C497.3,831.7 499.0,837.2 500.6,841.1C502.2,845.0 504.0,847.5 505.5,848.9C507.0,850.3 507.8,850.3 509.4,849.3C511.0,848.3 513.6,846.6 515.2,843.0C516.8,839.4 517.6,834.2 519.1,827.4C520.6,820.6 522.2,810.8 524.0,802.0C525.8,793.2 527.8,782.0 529.9,774.7C532.0,767.4 534.2,762.0 536.7,758.1C539.2,754.2 542.5,752.6 544.9,751.3C547.3,750.0 548.9,749.6 551.4,750.3C553.9,750.9 557.4,753.2 559.8,755.2C562.2,757.2 564.1,760.4 566.0,762.0C567.9,763.6 569.6,765.0 570.9,764.9C572.2,764.8 572.8,763.4 573.9,761.1C575.0,758.8 576.3,755.2 577.8,751.3C579.3,747.4 580.9,741.9 582.7,737.7C584.5,733.5 586.5,729.0 588.6,725.9C590.7,722.8 592.9,720.6 595.4,719.1C597.9,717.6 601.0,716.9 603.6,716.6C606.2,716.3 608.6,716.7 611.0,717.1C613.4,717.5 615.9,718.3 618.2,719.1C620.5,719.9 622.7,721.2 624.7,722.0C626.8,722.8 628.9,724.6 630.5,724.0C632.1,723.4 633.2,722.0 634.5,718.1C635.8,714.2 636.9,707.6 638.4,700.5C639.9,693.4 641.6,681.5 643.2,675.2C644.8,668.9 646.5,665.1 648.1,662.5C649.7,659.9 651.4,659.7 653.0,659.5C654.6,659.3 656.3,660.3 657.9,661.1C659.5,661.9 660.8,662.9 662.8,664.4C664.8,665.9 667.2,668.7 669.6,670.3C672.0,671.9 674.4,673.2 677.0,674.2C679.6,675.2 682.7,676.0 685.2,676.1C687.7,676.2 689.8,675.8 692.1,674.8C694.4,673.8 696.5,672.3 698.9,670.3C701.3,668.2 704.2,665.0 706.7,662.5C709.2,660.0 711.7,657.1 713.6,655.6C715.5,654.1 716.5,653.5 717.9,653.7C719.3,653.9 720.9,654.7 722.3,656.6C723.7,658.5 724.8,661.0 726.3,665.4C727.8,669.8 729.5,677.6 731.1,683.0C732.7,688.4 734.5,693.8 736.0,697.6C737.5,701.4 738.5,703.2 740.0,705.7C741.5,708.2 743.3,711.2 744.9,712.5C746.5,713.8 748.2,714.5 749.8,713.5C751.4,712.5 753.0,710.0 754.6,706.6C756.2,703.2 757.7,697.2 759.5,693.0C761.3,688.8 763.3,684.3 765.4,681.3C767.5,678.3 769.9,676.1 772.2,675.0C774.5,673.9 777.0,673.7 779.1,674.4C781.2,675.1 783.0,676.8 784.9,679.3C786.8,681.8 789.1,686.2 790.8,689.1C792.5,692.0 793.3,693.5 795.1,696.9C796.9,700.3 799.5,706.2 801.5,709.6C803.5,713.0 805.8,715.9 807.4,717.4C809.0,718.9 810.0,719.2 811.3,718.4C812.6,717.6 813.7,715.4 815.2,712.5C816.7,709.6 818.3,704.7 820.1,700.8C821.9,696.9 824.0,692.0 825.9,689.1C827.8,686.2 829.5,684.5 831.8,683.2C834.1,681.9 837.3,681.6 839.6,681.3C841.9,681.0 843.5,680.8 845.5,681.6C847.5,682.4 849.3,683.7 851.3,686.1C853.2,688.5 855.2,692.5 857.2,695.9C859.2,699.3 861.1,703.8 863.0,706.6C864.9,709.4 867.0,712.6 868.8,712.6C870.6,712.6 871.9,709.8 873.7,706.9C875.5,704.0 877.2,699.0 879.5,695.2C881.8,691.5 884.5,686.8 887.3,684.4C890.1,682.0 893.5,680.4 896.1,680.6C898.7,680.8 900.9,683.1 903.0,685.4C905.1,687.7 907.1,691.8 908.8,694.2C910.5,696.6 911.1,697.2 913.1,700.0C915.1,702.8 918.1,708.2 920.5,710.8C922.9,713.4 925.4,715.5 927.4,715.7C929.4,715.9 930.7,713.8 932.3,711.8C933.9,709.8 935.4,706.8 937.1,703.9C938.8,701.0 941.7,695.8 942.6,694.2L942.6,788.9C941.9,791.2 939.7,797.7 938.1,802.6C936.5,807.5 934.8,813.7 933.2,818.2C931.6,822.8 930.0,827.5 928.4,829.9C926.8,832.3 925.3,833.5 923.5,832.9C921.7,832.2 919.3,829.1 917.6,826.0C915.9,822.9 914.6,818.8 913.1,814.3C911.6,809.8 910.3,805.2 908.8,798.7C907.3,792.2 905.5,782.4 903.9,775.2C902.3,768.0 900.5,759.6 899.1,755.7C897.7,751.8 897.0,752.1 895.7,751.8C894.4,751.5 893.2,751.5 891.3,753.8C889.4,756.1 886.7,760.3 884.4,765.5C882.1,770.7 879.7,778.8 877.6,785.0C875.5,791.2 873.5,798.7 871.7,802.6C869.9,806.5 868.8,808.8 866.8,808.5C864.8,808.2 862.1,804.6 860.0,800.6C857.9,796.6 856.4,790.7 854.3,784.8C852.2,778.9 849.5,770.4 847.4,765.2C845.3,760.0 843.4,756.0 841.6,753.5C839.8,751.0 838.3,750.3 836.7,750.0C835.1,749.7 833.6,750.4 831.8,751.6C830.0,752.8 827.8,754.8 825.9,757.4C824.0,760.0 821.9,763.9 820.1,767.2C818.3,770.5 816.7,774.4 815.2,777.0C813.7,779.6 812.8,781.3 811.3,782.8C809.8,784.2 808.2,785.7 806.4,785.7C804.6,785.7 802.4,784.6 800.5,782.8C798.6,781.0 796.7,777.9 795.1,775.0C793.5,772.1 792.3,769.1 790.8,765.2C789.3,761.3 787.7,756.0 785.9,751.6C784.1,747.2 781.8,741.6 780.0,738.9C778.2,736.2 776.7,735.8 775.2,735.5C773.8,735.2 772.9,735.2 771.3,736.9C769.7,738.6 767.4,741.0 765.4,745.7C763.4,750.4 761.3,758.7 759.5,765.2C757.7,771.7 756.1,779.3 754.6,784.8C753.1,790.3 752.2,795.2 750.7,798.4C749.2,801.6 747.4,803.5 745.9,803.9C744.4,804.3 743.3,802.4 742.0,801.0C740.7,799.6 739.5,798.0 738.0,795.3C736.5,792.5 734.7,788.9 733.1,784.5C731.5,780.1 729.8,774.8 728.2,768.9C726.6,763.0 724.7,753.6 723.3,749.4C721.9,745.2 721.3,743.9 720.0,743.9C718.7,743.9 717.2,746.2 715.5,749.4C713.8,752.6 711.7,758.5 709.6,763.0C707.5,767.5 704.9,772.5 702.8,776.7C700.7,780.9 698.8,785.1 697.0,788.4C695.2,791.7 693.7,794.6 692.1,796.3C690.5,798.0 688.8,798.5 687.2,798.6C685.6,798.8 684.0,798.6 682.3,797.2C680.6,795.8 679.1,794.1 677.0,790.4C674.9,786.7 671.8,779.4 669.6,774.8C667.4,770.2 665.4,765.1 663.8,763.0C662.2,760.9 661.4,761.4 659.8,762.1C658.2,762.8 656.0,764.2 654.0,767.0C652.0,769.8 649.9,774.2 648.1,778.7C646.3,783.2 644.8,788.8 643.2,794.3C641.6,799.8 640.0,806.5 638.4,811.9C636.8,817.3 635.0,823.6 633.5,826.5C632.0,829.4 631.1,829.8 629.6,829.5C628.1,829.2 626.6,827.5 624.7,824.6C622.8,821.7 620.8,816.0 618.2,811.9C615.6,807.8 611.3,802.7 609.1,800.2C606.9,797.8 606.1,797.4 604.8,797.2C603.5,797.0 602.9,797.1 601.3,799.2C599.7,801.3 597.4,805.5 595.4,809.9C593.4,814.3 591.3,820.5 589.5,825.5C587.7,830.5 586.2,834.2 584.6,840.0C583.0,845.8 581.3,854.0 580.0,860.0C578.7,866.0 578.0,871.9 576.8,876.2C575.6,880.5 574.4,883.6 572.9,886.0C571.4,888.4 569.5,890.0 568.0,890.3C566.5,890.6 565.5,889.4 564.1,888.0C562.7,886.6 561.1,884.4 559.8,882.1C558.5,879.8 557.9,878.8 556.3,874.3C554.7,869.8 552.3,860.2 550.4,854.8C548.5,849.4 546.4,844.5 544.9,842.1C543.4,839.7 543.3,839.6 541.6,840.1C539.9,840.6 537.2,841.6 534.8,845.0C532.4,848.4 529.3,855.1 527.0,860.6C524.7,866.1 522.7,873.3 521.1,878.2C519.5,883.1 518.7,887.2 517.2,889.9C515.7,892.6 514.2,894.4 512.3,894.4C510.3,894.4 507.4,891.9 505.5,889.9C503.6,887.9 502.2,885.4 500.6,882.1C499.0,878.9 497.3,875.3 495.7,870.4C494.1,865.5 492.4,858.2 490.8,852.8C489.2,847.4 487.7,841.2 485.9,838.2C484.1,835.2 481.6,835.3 480.1,834.8C478.6,834.3 478.6,834.2 477.1,835.2C475.6,836.2 473.2,837.8 471.3,841.1C469.4,844.4 467.2,849.9 465.4,854.8C463.6,859.7 462.0,866.2 460.5,870.4C459.0,874.6 458.1,877.9 456.6,880.2C455.2,882.5 453.6,884.1 451.8,884.1C450.0,884.1 447.6,882.2 445.9,880.2C444.2,878.2 442.7,875.2 441.4,872.3C440.1,869.4 439.5,867.1 438.1,862.6C436.7,858.1 434.8,850.2 433.2,845.0C431.6,839.8 429.9,834.7 428.3,831.3C426.7,827.9 425.0,826.0 423.4,824.5C421.8,823.0 420.4,821.8 418.9,822.0C417.4,822.2 416.1,823.3 414.6,825.5C413.1,827.7 411.4,830.7 409.8,835.2C408.2,839.8 406.4,847.5 404.9,852.8C403.3,858.1 401.8,863.1 400.5,867.0C399.2,870.9 398.8,873.6 397.4,876.2C396.0,878.8 393.8,881.8 392.1,882.5C390.4,883.2 388.8,881.9 387.2,880.2C385.6,878.5 384.2,875.6 382.7,872.3C381.2,869.0 379.8,864.8 378.4,860.6C377.0,856.4 376.0,851.7 374.5,847.0C373.0,842.3 371.2,836.4 369.6,832.3C368.0,828.2 366.2,824.5 364.8,822.5C363.4,820.5 362.2,820.6 360.9,820.6C359.6,820.6 358.4,821.2 357.0,822.5C355.6,823.8 354.3,825.3 352.7,828.4C351.1,831.5 348.8,836.4 347.2,841.1C345.6,845.8 344.6,851.8 343.3,856.7C342.0,861.6 340.7,867.5 339.4,870.4C338.1,873.3 337.1,874.1 335.5,874.3C333.9,874.5 331.6,872.9 329.6,871.4C327.7,869.9 325.6,867.1 323.8,865.5C322.0,863.9 320.5,862.6 318.9,861.6C317.3,860.6 315.8,860.2 314.0,859.6C312.2,859.0 309.9,858.1 308.1,857.7C306.3,857.3 304.8,857.1 303.2,857.1C301.6,857.1 300.0,857.1 298.4,857.7C296.8,858.3 295.1,858.8 293.5,860.6C291.9,862.4 290.1,865.5 288.6,868.4C287.1,871.3 286.2,874.5 284.7,878.2C283.2,882.0 281.4,888.1 279.8,890.9C278.2,893.7 276.9,894.5 275.3,894.8C273.7,895.1 271.8,894.4 270.0,892.9C268.2,891.4 266.6,889.4 264.8,886.0C263.0,882.6 261.0,877.5 259.3,872.3C257.6,867.1 256.1,860.3 254.4,854.8C252.7,849.3 250.5,842.4 248.9,839.1C247.3,835.8 246.1,835.6 244.6,835.2C243.1,834.8 241.4,835.6 239.8,836.8C238.2,837.9 236.5,840.0 234.9,842.1C233.3,844.2 231.6,846.4 230.0,849.5C228.4,852.6 226.8,856.8 225.2,860.6C223.6,864.4 221.9,869.8 220.3,872.3C218.7,874.8 217.2,875.5 215.4,875.9C213.6,876.3 211.3,876.0 209.5,874.7C207.7,873.5 206.2,872.0 204.3,868.4C202.4,864.8 199.9,858.6 197.8,852.8C195.8,846.9 193.8,838.0 192.0,833.3C190.2,828.6 188.7,826.1 187.1,824.5C185.5,822.9 184.1,823.0 182.2,823.5C180.2,824.0 177.7,825.8 175.4,827.4C173.1,829.0 170.6,831.7 168.5,833.3C166.4,834.9 164.6,836.3 162.7,836.8C160.8,837.3 158.8,836.8 156.8,836.2C154.8,835.6 152.9,835.4 150.9,833.3C148.9,831.2 147.1,829.0 145.1,823.5C143.1,818.0 141.1,807.9 139.2,800.1C137.2,792.3 135.0,781.7 133.4,776.6C131.8,771.5 131.1,771.1 129.5,769.8C127.9,768.5 125.8,768.6 123.6,768.8C121.4,769.0 119.0,769.9 116.2,770.8C113.4,771.7 109.4,773.5 107.0,774.3C104.6,775.1 103.8,775.9 101.7,775.7C99.6,775.5 96.8,774.4 94.3,773.1C91.8,771.8 90.2,769.5 86.5,767.9C82.8,766.3 74.6,764.1 72.2,763.4Z" fill="rgba(120,120,120,0.385)"/>
<g stroke="#666" stroke-width="1.25">
<line x1="86.4" y1="592.8" x2="86.4" y2="972.5"/>
<line x1="145.1" y1="592.8" x2="145.1" y2="972.5"/>
<line x1="204.3" y1="592.8" x2="204.3" y2="972.5"/>
<line x1="264.8" y1="592.8" x2="264.8" y2="972.5"/>
<line x1="323.8" y1="592.8" x2="323.8" y2="972.5"/>
<line x1="382.7" y1="592.8" x2="382.7" y2="972.5"/>
<line x1="441.4" y1="592.8" x2="441.4" y2="972.5"/>
<line x1="500.6" y1="592.8" x2="500.6" y2="972.5"/>
<line x1="559.8" y1="592.8" x2="559.8" y2="972.5"/>
<line x1="618.2" y1="592.8" x2="618.2" y2="972.5"/>
<line x1="677.0" y1="592.8" x2="677.0" y2="972.5"/>
<line x1="736.0" y1="592.8" x2="736.0" y2="972.5"/>
<line x1="795.1" y1="592.8" x2="795.1" y2="972.5"/>
<line x1="854.3" y1="592.8" x2="854.3" y2="972.5"/>
<line x1="913.1" y1="592.8" x2="913.1" y2="972.5"/>
</g>
<path d="M72.2,761.6C73.4,761.9 77.2,762.8 79.6,763.4C82.0,764.0 84.0,764.1 86.5,765.3C89.0,766.5 91.8,769.1 94.3,770.4C96.8,771.7 99.6,773.3 101.7,773.3C103.8,773.3 104.6,772.0 107.0,770.4C109.4,768.8 113.4,765.1 116.2,763.4C119.0,761.7 121.7,760.6 123.6,760.0C125.5,759.4 126.0,759.0 127.5,760.0C129.0,761.0 130.6,761.5 132.4,765.9C134.2,770.3 136.1,779.4 138.2,786.4C140.3,793.4 143.3,803.6 145.1,807.9C146.9,812.2 147.7,811.3 149.0,812.2C150.3,813.1 151.0,813.4 152.9,813.2C154.8,813.0 156.9,812.3 160.7,810.8C164.4,809.3 171.8,805.9 175.4,804.4C179.0,802.9 180.2,802.4 182.2,802.0C184.1,801.6 185.5,801.2 187.1,802.0C188.7,802.8 190.2,804.0 192.0,806.9C193.8,809.8 195.8,815.0 197.8,819.6C199.9,824.2 202.4,830.8 204.3,834.3C206.2,837.8 207.7,839.2 209.5,840.7C211.3,842.2 213.6,842.9 215.4,843.0C217.2,843.1 218.7,842.8 220.3,841.5C221.9,840.2 223.6,837.7 225.2,835.2C226.8,832.7 228.4,828.8 230.0,826.4C231.6,824.0 233.3,822.1 234.9,820.6C236.5,819.1 238.3,817.9 239.8,817.3C241.3,816.6 242.2,816.3 243.7,816.7C245.2,817.1 247.1,817.5 248.9,819.6C250.7,821.7 252.7,826.1 254.4,829.4C256.1,832.6 257.6,835.7 259.3,839.1C261.0,842.5 263.0,846.6 264.8,849.9C266.6,853.2 268.2,856.3 270.0,858.7C271.8,861.1 273.8,863.6 275.3,864.1C276.8,864.6 277.6,863.5 278.8,861.6C280.0,859.7 281.1,856.9 282.7,852.8C284.3,848.7 286.8,841.4 288.6,837.2C290.4,833.0 291.9,829.9 293.5,827.4C295.1,824.9 296.8,823.5 298.4,822.5C300.0,821.5 301.6,821.0 303.2,821.2C304.8,821.4 306.3,821.6 308.1,823.5C309.9,825.4 312.2,829.4 314.0,832.3C315.8,835.2 317.3,838.3 318.9,841.1C320.5,843.9 322.0,846.3 323.8,848.9C325.6,851.5 327.8,854.9 329.6,856.7C331.4,858.5 333.1,859.6 334.5,859.6C335.9,859.6 336.7,859.5 338.0,856.7C339.3,853.9 340.8,848.9 342.3,843.0C343.8,837.1 345.5,828.1 347.2,821.6C348.9,815.1 351.1,808.0 352.7,804.0C354.3,800.0 355.6,799.0 357.0,797.7C358.4,796.4 359.6,796.1 360.9,796.2C362.2,796.3 363.7,797.1 364.8,798.1C365.9,799.1 366.2,798.7 367.7,802.0C369.2,805.3 371.8,812.5 373.6,817.7C375.4,822.9 376.9,828.8 378.4,833.3C379.9,837.8 381.2,841.8 382.7,845.0C384.2,848.2 385.6,851.1 387.2,852.8C388.8,854.5 390.4,855.7 392.1,855.2C393.8,854.7 396.1,852.2 397.4,849.9C398.7,847.5 398.8,846.1 400.0,841.1C401.2,836.1 403.3,825.8 404.9,819.6C406.5,813.4 408.2,807.8 409.8,804.0C411.4,800.2 413.1,798.2 414.6,796.6C416.1,795.0 417.4,794.3 418.9,794.2C420.4,794.1 421.8,794.6 423.4,796.2C425.0,797.8 426.7,799.8 428.3,804.0C429.9,808.2 431.6,815.4 433.2,821.6C434.8,827.8 436.7,836.2 438.1,841.1C439.5,846.0 440.1,848.1 441.4,850.9C442.7,853.7 444.3,856.1 445.9,857.7C447.5,859.3 449.5,860.6 451.2,860.6C452.9,860.6 454.6,859.7 456.1,857.7C457.7,855.8 458.9,852.6 460.5,848.9C462.1,845.1 463.6,840.1 465.4,835.2C467.2,830.3 469.4,823.5 471.3,819.6C473.2,815.7 475.4,813.4 477.1,811.8C478.8,810.2 480.1,809.5 481.6,809.8C483.1,810.1 484.4,810.9 485.9,813.8C487.4,816.7 489.2,822.2 490.8,827.4C492.4,832.6 494.1,839.1 495.7,845.0C497.3,850.9 499.0,858.4 500.6,862.6C502.2,866.8 503.9,868.7 505.5,870.4C507.1,872.1 508.8,872.9 510.4,872.7C512.0,872.5 513.8,871.4 515.2,869.4C516.7,867.4 517.6,864.7 519.1,860.6C520.6,856.5 522.2,849.9 524.0,845.0C525.8,840.1 527.8,835.0 529.9,831.3C532.0,827.5 534.2,824.8 536.7,822.5C539.2,820.2 542.3,818.4 544.9,817.3C547.5,816.2 549.8,815.8 552.3,815.7C554.8,815.6 557.7,815.7 559.8,816.7C561.9,817.7 563.2,820.3 565.0,821.6C566.8,822.9 568.8,824.8 570.3,824.5C571.8,824.2 572.6,824.4 573.9,819.7C575.1,815.0 576.3,804.8 577.8,796.3C579.3,787.8 581.1,775.8 582.7,768.9C584.3,762.0 586.0,758.6 587.6,755.2C589.2,751.8 590.7,749.9 592.5,748.4C594.3,746.9 596.4,746.6 598.3,746.4C600.1,746.2 601.8,746.3 603.6,747.0C605.4,747.7 606.7,748.4 609.1,750.4C611.5,752.4 615.6,756.2 618.2,759.1C620.8,762.0 622.7,765.5 624.7,767.9C626.8,770.3 629.0,773.3 630.5,773.8C632.0,774.3 632.4,773.3 633.5,770.9C634.6,768.5 635.9,764.3 637.4,759.1C638.9,753.9 640.5,745.3 642.3,739.6C644.1,733.9 646.1,728.4 648.1,725.0C650.1,721.6 651.5,720.3 654.0,719.1C656.5,717.9 660.2,717.7 662.8,717.7C665.4,717.7 667.2,718.2 669.6,719.1C672.0,720.0 674.7,721.2 677.0,723.0C679.3,724.8 681.3,727.9 683.3,729.8C685.3,731.6 687.5,733.8 689.1,734.1C690.7,734.4 691.7,733.5 693.0,731.8C694.3,730.1 695.5,727.6 697.0,724.0C698.5,720.4 700.2,714.7 701.8,710.3C703.4,705.9 704.9,701.2 706.7,697.6C708.5,694.0 710.8,690.6 712.6,688.8C714.4,686.9 715.9,686.5 717.5,686.5C719.1,686.5 720.8,687.1 722.3,688.8C723.8,690.5 724.8,692.7 726.3,696.6C727.8,700.5 729.5,707.4 731.1,712.3C732.7,717.2 734.5,722.3 736.0,725.9C737.5,729.5 738.5,730.7 740.0,734.0C741.5,737.3 743.3,742.8 744.9,745.7C746.5,748.6 748.3,751.3 749.8,751.6C751.3,751.9 752.2,750.6 753.7,747.7C755.2,744.8 756.8,738.9 758.6,734.0C760.4,729.1 762.3,722.6 764.4,718.4C766.5,714.2 769.2,710.6 771.3,708.6C773.4,706.6 775.3,706.1 777.1,706.3C778.9,706.5 780.2,706.9 782.0,709.6C783.8,712.3 785.7,717.6 787.9,722.3C790.1,727.0 792.8,733.2 795.1,737.9C797.4,742.6 799.5,747.4 801.5,750.6C803.5,753.9 805.8,756.3 807.4,757.4C809.0,758.5 810.0,758.5 811.3,757.0C812.6,755.5 813.7,752.4 815.2,748.6C816.7,744.8 818.3,738.4 820.1,734.0C821.9,729.6 824.0,725.1 825.9,722.3C827.8,719.5 830.0,718.3 831.8,717.4C833.6,716.5 835.1,716.4 836.7,717.0C838.3,717.6 839.8,718.5 841.6,721.3C843.4,724.1 845.3,729.5 847.4,734.0C849.5,738.5 852.2,744.5 854.3,748.6C856.4,752.7 857.9,756.2 860.0,758.6C862.1,761.0 864.8,762.9 866.8,762.7C868.8,762.6 869.9,761.2 871.7,757.7C873.5,754.2 875.5,746.9 877.6,742.0C879.7,737.1 882.1,732.1 884.4,728.4C886.7,724.7 889.4,721.5 891.3,719.6C893.2,717.7 894.2,716.5 895.7,716.8C897.2,717.1 898.5,717.6 900.0,721.5C901.5,725.4 903.3,733.4 904.9,740.1C906.5,746.8 908.4,756.2 909.8,761.6C911.2,767.0 911.8,769.2 913.1,772.3C914.4,775.4 916.0,778.2 917.6,780.1C919.2,782.0 920.9,783.2 922.5,783.4C924.1,783.6 925.8,783.1 927.4,781.1C929.0,779.1 930.7,775.5 932.3,771.3C933.9,767.1 935.4,761.4 937.1,755.7C938.8,750.0 941.7,740.2 942.6,737.1" fill="none" stroke="#f4eeee" stroke-opacity="0.75" stroke-width="4.8" stroke-linejoin="round" stroke-linecap="butt"/>
<path d="M72.2,761.6C73.4,761.9 77.2,762.8 79.6,763.4C82.0,764.0 84.0,764.1 86.5,765.3C89.0,766.5 91.8,769.1 94.3,770.4C96.8,771.7 99.6,773.3 101.7,773.3C103.8,773.3 104.6,772.0 107.0,770.4C109.4,768.8 113.4,765.1 116.2,763.4C119.0,761.7 121.7,760.6 123.6,760.0C125.5,759.4 126.0,759.0 127.5,760.0C129.0,761.0 130.6,761.5 132.4,765.9C134.2,770.3 136.1,779.4 138.2,786.4C140.3,793.4 143.3,803.6 145.1,807.9C146.9,812.2 147.7,811.3 149.0,812.2C150.3,813.1 151.0,813.4 152.9,813.2C154.8,813.0 156.9,812.3 160.7,810.8C164.4,809.3 171.8,805.9 175.4,804.4C179.0,802.9 180.2,802.4 182.2,802.0C184.1,801.6 185.5,801.2 187.1,802.0C188.7,802.8 190.2,804.0 192.0,806.9C193.8,809.8 195.8,815.0 197.8,819.6C199.9,824.2 202.4,830.8 204.3,834.3C206.2,837.8 207.7,839.2 209.5,840.7C211.3,842.2 213.6,842.9 215.4,843.0C217.2,843.1 218.7,842.8 220.3,841.5C221.9,840.2 223.6,837.7 225.2,835.2C226.8,832.7 228.4,828.8 230.0,826.4C231.6,824.0 233.3,822.1 234.9,820.6C236.5,819.1 238.3,817.9 239.8,817.3C241.3,816.6 242.2,816.3 243.7,816.7C245.2,817.1 247.1,817.5 248.9,819.6C250.7,821.7 252.7,826.1 254.4,829.4C256.1,832.6 257.6,835.7 259.3,839.1C261.0,842.5 263.0,846.6 264.8,849.9C266.6,853.2 268.2,856.3 270.0,858.7C271.8,861.1 273.8,863.6 275.3,864.1C276.8,864.6 277.6,863.5 278.8,861.6C280.0,859.7 281.1,856.9 282.7,852.8C284.3,848.7 286.8,841.4 288.6,837.2C290.4,833.0 291.9,829.9 293.5,827.4C295.1,824.9 296.8,823.5 298.4,822.5C300.0,821.5 301.6,821.0 303.2,821.2C304.8,821.4 306.3,821.6 308.1,823.5C309.9,825.4 312.2,829.4 314.0,832.3C315.8,835.2 317.3,838.3 318.9,841.1C320.5,843.9 322.0,846.3 323.8,848.9C325.6,851.5 327.8,854.9 329.6,856.7C331.4,858.5 333.1,859.6 334.5,859.6C335.9,859.6 336.7,859.5 338.0,856.7C339.3,853.9 340.8,848.9 342.3,843.0C343.8,837.1 345.5,828.1 347.2,821.6C348.9,815.1 351.1,808.0 352.7,804.0C354.3,800.0 355.6,799.0 357.0,797.7C358.4,796.4 359.6,796.1 360.9,796.2C362.2,796.3 363.7,797.1 364.8,798.1C365.9,799.1 366.2,798.7 367.7,802.0C369.2,805.3 371.8,812.5 373.6,817.7C375.4,822.9 376.9,828.8 378.4,833.3C379.9,837.8 381.2,841.8 382.7,845.0C384.2,848.2 385.6,851.1 387.2,852.8C388.8,854.5 390.4,855.7 392.1,855.2C393.8,854.7 396.1,852.2 397.4,849.9C398.7,847.5 398.8,846.1 400.0,841.1C401.2,836.1 403.3,825.8 404.9,819.6C406.5,813.4 408.2,807.8 409.8,804.0C411.4,800.2 413.1,798.2 414.6,796.6C416.1,795.0 417.4,794.3 418.9,794.2C420.4,794.1 421.8,794.6 423.4,796.2C425.0,797.8 426.7,799.8 428.3,804.0C429.9,808.2 431.6,815.4 433.2,821.6C434.8,827.8 436.7,836.2 438.1,841.1C439.5,846.0 440.1,848.1 441.4,850.9C442.7,853.7 444.3,856.1 445.9,857.7C447.5,859.3 449.5,860.6 451.2,860.6C452.9,860.6 454.6,859.7 456.1,857.7C457.7,855.8 458.9,852.6 460.5,848.9C462.1,845.1 463.6,840.1 465.4,835.2C467.2,830.3 469.4,823.5 471.3,819.6C473.2,815.7 475.4,813.4 477.1,811.8C478.8,810.2 480.1,809.5 481.6,809.8C483.1,810.1 484.4,810.9 485.9,813.8C487.4,816.7 489.2,822.2 490.8,827.4C492.4,832.6 494.1,839.1 495.7,845.0C497.3,850.9 499.0,858.4 500.6,862.6C502.2,866.8 503.9,868.7 505.5,870.4C507.1,872.1 508.8,872.9 510.4,872.7C512.0,872.5 513.8,871.4 515.2,869.4C516.7,867.4 517.6,864.7 519.1,860.6C520.6,856.5 522.2,849.9 524.0,845.0C525.8,840.1 527.8,835.0 529.9,831.3C532.0,827.5 534.2,824.8 536.7,822.5C539.2,820.2 542.3,818.4 544.9,817.3C547.5,816.2 549.8,815.8 552.3,815.7C554.8,815.6 557.7,815.7 559.8,816.7C561.9,817.7 563.2,820.3 565.0,821.6C566.8,822.9 568.8,824.8 570.3,824.5C571.8,824.2 572.6,824.4 573.9,819.7C575.1,815.0 576.3,804.8 577.8,796.3C579.3,787.8 581.1,775.8 582.7,768.9C584.3,762.0 586.0,758.6 587.6,755.2C589.2,751.8 590.7,749.9 592.5,748.4C594.3,746.9 596.4,746.6 598.3,746.4C600.1,746.2 601.8,746.3 603.6,747.0C605.4,747.7 606.7,748.4 609.1,750.4C611.5,752.4 615.6,756.2 618.2,759.1C620.8,762.0 622.7,765.5 624.7,767.9C626.8,770.3 629.0,773.3 630.5,773.8C632.0,774.3 632.4,773.3 633.5,770.9C634.6,768.5 635.9,764.3 637.4,759.1C638.9,753.9 640.5,745.3 642.3,739.6C644.1,733.9 646.1,728.4 648.1,725.0C650.1,721.6 651.5,720.3 654.0,719.1C656.5,717.9 660.2,717.7 662.8,717.7C665.4,717.7 667.2,718.2 669.6,719.1C672.0,720.0 674.7,721.2 677.0,723.0C679.3,724.8 681.3,727.9 683.3,729.8C685.3,731.6 687.5,733.8 689.1,734.1C690.7,734.4 691.7,733.5 693.0,731.8C694.3,730.1 695.5,727.6 697.0,724.0C698.5,720.4 700.2,714.7 701.8,710.3C703.4,705.9 704.9,701.2 706.7,697.6C708.5,694.0 710.8,690.6 712.6,688.8C714.4,686.9 715.9,686.5 717.5,686.5C719.1,686.5 720.8,687.1 722.3,688.8C723.8,690.5 724.8,692.7 726.3,696.6C727.8,700.5 729.5,707.4 731.1,712.3C732.7,717.2 734.5,722.3 736.0,725.9C737.5,729.5 738.5,730.7 740.0,734.0C741.5,737.3 743.3,742.8 744.9,745.7C746.5,748.6 748.3,751.3 749.8,751.6C751.3,751.9 752.2,750.6 753.7,747.7C755.2,744.8 756.8,738.9 758.6,734.0C760.4,729.1 762.3,722.6 764.4,718.4C766.5,714.2 769.2,710.6 771.3,708.6C773.4,706.6 775.3,706.1 777.1,706.3C778.9,706.5 780.2,706.9 782.0,709.6C783.8,712.3 785.7,717.6 787.9,722.3C790.1,727.0 792.8,733.2 795.1,737.9C797.4,742.6 799.5,747.4 801.5,750.6C803.5,753.9 805.8,756.3 807.4,757.4C809.0,758.5 810.0,758.5 811.3,757.0C812.6,755.5 813.7,752.4 815.2,748.6C816.7,744.8 818.3,738.4 820.1,734.0C821.9,729.6 824.0,725.1 825.9,722.3C827.8,719.5 830.0,718.3 831.8,717.4C833.6,716.5 835.1,716.4 836.7,717.0C838.3,717.6 839.8,718.5 841.6,721.3C843.4,724.1 845.3,729.5 847.4,734.0C849.5,738.5 852.2,744.5 854.3,748.6C856.4,752.7 857.9,756.2 860.0,758.6C862.1,761.0 864.8,762.9 866.8,762.7C868.8,762.6 869.9,761.2 871.7,757.7C873.5,754.2 875.5,746.9 877.6,742.0C879.7,737.1 882.1,732.1 884.4,728.4C886.7,724.7 889.4,721.5 891.3,719.6C893.2,717.7 894.2,716.5 895.7,716.8C897.2,717.1 898.5,717.6 900.0,721.5C901.5,725.4 903.3,733.4 904.9,740.1C906.5,746.8 908.4,756.2 909.8,761.6C911.2,767.0 911.8,769.2 913.1,772.3C914.4,775.4 916.0,778.2 917.6,780.1C919.2,782.0 920.9,783.2 922.5,783.4C924.1,783.6 925.8,783.1 927.4,781.1C929.0,779.1 930.7,775.5 932.3,771.3C933.9,767.1 935.4,761.4 937.1,755.7C938.8,750.0 941.7,740.2 942.6,737.1" fill="none" stroke="#e8384c" stroke-width="2.2" stroke-linejoin="round" stroke-linecap="butt"/>
<line x1="65.8" y1="863.9" x2="943.0" y2="863.9" stroke="#000" stroke-width="2.8"/>
<g stroke="#222" stroke-width="1.5" fill="none">
<path d="M71.8,965.9 L71.8,592.8 L943.0,592.8 L943.0,965.9 L71.1,965.9"/>
</g>
<g stroke="#222" stroke-width="1.4">
<line x1="65.6" y1="592.8" x2="71.8" y2="592.8"/>
<line x1="65.6" y1="626.7" x2="71.8" y2="626.7"/>
<line x1="65.6" y1="660.6" x2="71.8" y2="660.6"/>
<line x1="65.6" y1="694.6" x2="71.8" y2="694.6"/>
<line x1="65.6" y1="728.5" x2="71.8" y2="728.5"/>
<line x1="65.6" y1="762.4" x2="71.8" y2="762.4"/>
<line x1="65.6" y1="796.3" x2="71.8" y2="796.3"/>
<line x1="65.6" y1="830.2" x2="71.8" y2="830.2"/>
<line x1="65.6" y1="864.2" x2="71.8" y2="864.2"/>
<line x1="65.6" y1="898.1" x2="71.8" y2="898.1"/>
<line x1="65.6" y1="932.0" x2="71.8" y2="932.0"/>
<line x1="65.6" y1="965.9" x2="71.8" y2="965.9"/>
</g>
<g font-family="Liberation Sans, Arial, sans-serif" font-size="16.2" fill="#222" stroke="#222" stroke-width="0.4">
<text x="62.1" y="598.2" text-anchor="end" textLength="17.8" lengthAdjust="spacingAndGlyphs">16</text>
<text x="62.1" y="632.1" text-anchor="end" textLength="17.8" lengthAdjust="spacingAndGlyphs">14</text>
<text x="62.1" y="666.1" text-anchor="end" textLength="17.8" lengthAdjust="spacingAndGlyphs">12</text>
<text x="62.1" y="700.0" text-anchor="end" textLength="17.8" lengthAdjust="spacingAndGlyphs">10</text>
<text x="62.1" y="733.9" text-anchor="end" textLength="8.9" lengthAdjust="spacingAndGlyphs">8</text>
<text x="62.1" y="767.8" text-anchor="end" textLength="8.9" lengthAdjust="spacingAndGlyphs">6</text>
<text x="62.1" y="801.7" text-anchor="end" textLength="8.9" lengthAdjust="spacingAndGlyphs">4</text>
<text x="62.1" y="835.7" text-anchor="end" textLength="8.9" lengthAdjust="spacingAndGlyphs">2</text>
<text x="62.1" y="869.6" text-anchor="end" textLength="8.9" lengthAdjust="spacingAndGlyphs">0</text>
<text x="62.1" y="903.5" text-anchor="end" textLength="14.2" lengthAdjust="spacingAndGlyphs">-2</text>
<text x="62.1" y="937.4" text-anchor="end" textLength="14.2" lengthAdjust="spacingAndGlyphs">-4</text>
<text x="62.1" y="971.3" text-anchor="end" textLength="14.2" lengthAdjust="spacingAndGlyphs">-6</text>
<text x="115.9" y="988.8" font-size="15.799999999999999" text-anchor="middle" textLength="38.7" lengthAdjust="spacingAndGlyphs">Zo 14</text>
<text x="175.0" y="988.8" font-size="15.799999999999999" text-anchor="middle" textLength="42.1" lengthAdjust="spacingAndGlyphs">Ma 15</text>
<text x="234.0" y="988.8" font-size="15.799999999999999" text-anchor="middle" textLength="35.4" lengthAdjust="spacingAndGlyphs">Di 16</text>
<text x="293.1" y="988.8" font-size="15.799999999999999" text-anchor="middle" textLength="43.8" lengthAdjust="spacingAndGlyphs">Wo 17</text>
<text x="352.1" y="988.8" font-size="15.799999999999999" text-anchor="middle" textLength="40.4" lengthAdjust="spacingAndGlyphs">Do 18</text>
<text x="411.2" y="988.8" font-size="15.799999999999999" text-anchor="middle" textLength="36.2" lengthAdjust="spacingAndGlyphs">Vr 19</text>
<text x="470.2" y="988.8" font-size="15.799999999999999" text-anchor="middle" textLength="38.7" lengthAdjust="spacingAndGlyphs">Za 20</text>
<text x="529.3" y="988.8" font-size="15.799999999999999" text-anchor="middle" textLength="38.7" lengthAdjust="spacingAndGlyphs">Zo 21</text>
<text x="588.3" y="988.8" font-size="15.799999999999999" text-anchor="middle" textLength="42.1" lengthAdjust="spacingAndGlyphs">Ma 22</text>
<text x="647.4" y="988.8" font-size="15.799999999999999" text-anchor="middle" textLength="35.4" lengthAdjust="spacingAndGlyphs">Di 23</text>
<text x="706.4" y="988.8" font-size="15.799999999999999" text-anchor="middle" textLength="43.8" lengthAdjust="spacingAndGlyphs">Wo 24</text>
<text x="765.5" y="988.8" font-size="15.799999999999999" text-anchor="middle" textLength="40.4" lengthAdjust="spacingAndGlyphs">Do 25</text>
<text x="824.5" y="988.8" font-size="15.799999999999999" text-anchor="middle" textLength="36.2" lengthAdjust="spacingAndGlyphs">Vr 26</text>
<text x="883.6" y="988.8" font-size="15.799999999999999" text-anchor="middle" textLength="38.7" lengthAdjust="spacingAndGlyphs">Za 27</text>
<rect x="71.4" y="577.0" width="10.1" height="10.1" fill="#cfcfcf" stroke="#2e2e2e" stroke-width="1.4"/>
<text x="87.2" y="587.2" textLength="68.8" lengthAdjust="spacingAndGlyphs">80% kans</text>
<rect x="192.4" y="577.0" width="10.1" height="10.1" fill="#e8384c" stroke="#2e2e2e" stroke-width="1.4"/>
<text x="208.0" y="587.2" textLength="77.0" lengthAdjust="spacingAndGlyphs">gemiddelde</text>
</g>
<g font-family="Liberation Sans, Arial, sans-serif" font-size="13.1" fill="#a1a1ab" text-anchor="end">
<text x="941.4" y="573.2" textLength="173.0" lengthAdjust="spacingAndGlyphs">Infoplaza.nl - regio noordwest</text>
<text x="941.4" y="587.8" textLength="151.5" lengthAdjust="spacingAndGlyphs">Gemaakt: zo 14 jan 04:00</text>
</g>
</svg>
<div class="shade"></div>
</body></html>
